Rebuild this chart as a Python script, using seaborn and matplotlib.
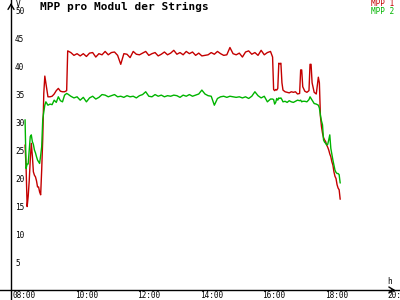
import matplotlib
matplotlib.use("Agg")
import matplotlib.pyplot as plt
import seaborn as sns
import pandas as pd

# ---------------- data ----------------
times = [
    "08:18", "08:20", "08:22", "08:24", "08:26", "08:28", "08:30", "08:32", "08:34", "08:36",
    "08:38", "08:40", "08:42", "08:44", "08:46", "08:48", "08:50", "08:52", "08:54", "08:56",
    "08:58",
    "09:02", "09:06", "09:10", "09:14", "09:18", "09:22", "09:26", "09:30", "09:34", "09:38",
    "09:40",
    "09:46", "09:52", "09:58", "10:04", "10:10", "10:16", "10:22", "10:28", "10:34", "10:40",
    "10:46", "10:52", "10:58", "11:04", "11:10", "11:16", "11:22", "11:28", "11:34", "11:40",
    "11:46", "11:52", "11:58", "12:04", "12:10", "12:16", "12:22", "12:28", "12:34", "12:40",
    "12:46", "12:52", "12:58", "13:04", "13:10", "13:16", "13:22", "13:28", "13:34", "13:40",
    "13:46", "13:52", "13:58", "14:04", "14:10", "14:16", "14:22", "14:28", "14:34", "14:40",
    "14:46", "14:52", "14:58", "15:04", "15:10", "15:16", "15:22", "15:28", "15:34", "15:40",
    "15:46", "15:52", "15:58", "16:04", "16:10",
    "16:14", "16:16", "16:18", "16:20", "16:22", "16:24", "16:26", "16:28", "16:30", "16:32",
    "16:34", "16:38", "16:42", "16:46", "16:50", "16:54", "16:58", "17:02", "17:06", "17:08",
    "17:10", "17:12", "17:16", "17:20", "17:24", "17:26", "17:28", "17:30", "17:34", "17:38",
    "17:42",
    "17:44", "17:46", "17:48", "17:50", "17:52", "17:54", "17:56", "17:58", "18:00", "18:02",
    "18:04", "18:06", "18:08", "18:10", "18:12", "18:14", "18:16", "18:18", "18:20", "18:22",
    "18:24",
]

mpp1 = [
    25.9, 21.8, 14.9, 16.7, 19.5, 23.2, 26.2, 24.0, 21.1, 20.5,
    20.2, 19.5, 18.4, 18.4, 17.5, 17.0, 21.5, 27.0, 35.1, 38.2,
    37.0,
    34.5, 34.5, 34.6, 35.0, 35.6, 36.0, 35.5, 35.4, 35.4, 35.6,
    42.7,
    42.4, 41.9, 42.2, 41.8, 42.2, 41.7, 42.3, 42.4, 41.6, 42.2,
    42.0, 42.6, 42.0, 42.4, 42.5, 41.9, 40.3, 42.2, 42.1, 41.5,
    42.6, 42.1, 42.0, 42.3, 42.6, 41.9, 42.2, 42.4, 41.8, 42.1,
    42.5, 42.0, 42.3, 42.8, 42.1, 42.4, 42.0, 42.6, 42.2, 42.5,
    41.9, 42.3, 41.8, 41.9, 42.0, 42.4, 42.1, 42.6, 42.2, 41.9,
    42.0, 43.3, 42.2, 42.0, 42.3, 41.6, 42.5, 42.7, 42.1, 42.4,
    41.9, 42.8, 42.0, 42.4, 42.6,
    41.6, 35.8, 35.6, 35.8, 35.7, 36.0, 40.5, 40.4, 40.5, 37.0,
    35.7, 35.4, 35.3, 35.2, 35.4, 35.3, 35.4, 35.0, 35.1, 39.3,
    39.3, 36.3, 35.5, 35.3, 35.6, 40.3, 40.3, 37.0, 35.3, 35.0,
    38.0,
    37.0, 31.0, 29.2, 28.0, 27.2, 26.8, 26.5, 25.9, 25.5, 25.0,
    24.3, 23.8, 22.9, 22.3, 21.1, 20.3, 19.9, 18.8, 18.2, 17.9,
    16.2,
]

mpp2 = [
    30.4, 21.7, 22.5, 22.5, 25.0, 27.4, 27.7, 26.5, 26.0, 25.0,
    24.5, 23.8, 23.2, 22.9, 22.6, 24.0, 25.6, 30.4, 31.8, 33.0,
    33.6,
    33.0, 33.2, 33.1, 33.9, 33.5, 34.5, 33.8, 33.6, 34.8, 35.1,
    35.0,
    34.6, 34.3, 34.5, 33.9, 34.4, 33.6, 34.3, 34.6, 34.1, 34.4,
    34.9, 34.8, 34.5, 34.7, 34.9, 34.5, 34.6, 34.4, 34.7, 34.5,
    34.6, 34.3, 34.7, 34.9, 35.4, 34.6, 34.5, 34.9, 34.6, 34.8,
    34.5, 34.7, 34.6, 34.8, 34.7, 34.4, 34.8, 34.6, 34.9, 34.6,
    34.8, 35.0, 35.7, 35.0, 34.7, 34.6, 33.0, 34.2, 34.5, 34.6,
    34.4, 34.6, 34.5, 34.4, 34.5, 34.3, 34.5, 34.2, 34.6, 35.4,
    34.7, 34.3, 34.6, 33.6, 34.1,
    34.1, 34.0, 33.2, 33.5, 34.2, 33.9, 34.3, 34.2, 34.3, 34.0,
    33.6, 33.7, 33.5, 33.8, 33.6, 33.5, 33.7, 33.9, 33.8, 33.9,
    33.6, 33.7, 33.7, 33.6, 34.0, 34.5, 34.2, 33.9, 33.3, 33.2,
    33.0,
    32.5, 31.2, 30.2, 29.5, 26.8, 26.4, 26.2, 25.9, 26.0, 26.8,
    27.7, 25.3, 24.2, 23.2, 22.3, 21.4, 21.0, 20.8, 20.8, 20.6,
    19.1,
]

series_names = ["MPP 1", "MPP 2"]
series_colors = ["#c40000", "#00b400"]
x_tick_labels = ["08:00", "10:00", "12:00", "14:00", "16:00", "18:00", "20:00"]
y_tick_values = [5, 10, 15, 20, 25, 30, 35, 40, 45, 50]
title = "MPP pro Modul der Strings"
y_unit = "V"
x_unit = "h"


def to_hours(s):
    h, m = s.split(":")
    return int(h) + int(m) / 60.0


hours = [to_hours(t) for t in times]
df = pd.DataFrame({
    "hour": hours + hours,
    "value": mpp1 + mpp2,
    "series": [series_names[0]] * len(hours) + [series_names[1]] * len(hours),
})

# ---------------- figure ----------------
sns.set_theme(style="white")
plt.rcParams["font.family"] = ["DejaVu Sans Mono", "DejaVu Sans"]

W, H = 400, 300
fig = plt.figure(figsize=(4, 3), dpi=100)
ax = fig.add_axes([0, 0, 1, 1])
ax.set_facecolor("white")

sns.lineplot(data=df, x="hour", y="value", hue="series",
             palette=dict(zip(series_names, series_colors)),
             estimator=None, sort=False, legend=False,
             linewidth=1.0, ax=ax)

# pixel mapping: px = 15.7 + 31.2*(h-8), py = 290 - 5.6*v
x0, xs = 15.7, 31.2
y0, ys = 290.0, 5.6
ax.set_xlim(8 - x0 / xs, 8 + (W - x0) / xs)
ax.set_ylim(-(H - y0) / ys, y0 / ys)
axis_x = 8 + (11 - x0) / xs

for side in ["top", "right"]:
    ax.spines[side].set_visible(False)
ax.spines["left"].set_position(("data", axis_x))
ax.spines["bottom"].set_position(("data", 0))
for side in ["left", "bottom"]:
    ax.spines[side].set_color("black")
    ax.spines[side].set_linewidth(1.0)

x_tick_hours = [to_hours(t) for t in x_tick_labels]
ax.set_xticks(x_tick_hours)
ax.set_xticklabels([""] * len(x_tick_hours))
ax.set_yticks(y_tick_values)
ax.set_yticklabels([""] * len(y_tick_values))
ax.tick_params(axis="both", direction="inout", length=4, width=1, color="black")
ax.set_xlabel("")
ax.set_ylabel("")
ax.grid(False)

fs_tick = 5.6
for h, lab in zip(x_tick_hours, x_tick_labels):
    ax.annotate(lab, xy=(h, 0), xytext=(-3, -9.8), textcoords="offset pixels",
                ha="left", va="bottom", fontsize=fs_tick, color="black",
                annotation_clip=False)
for v in y_tick_values:
    ax.annotate(str(v), xy=(axis_x, v), xytext=(4, -1), textcoords="offset pixels",
                ha="left", va="center", fontsize=fs_tick, color="black",
                annotation_clip=False)

# arrow heads
ytop = y0 / ys
xright = 8 + (398 - x0) / xs
ax.annotate("", xy=(axis_x, ytop - 0.05), xytext=(axis_x, ytop - 1.5),
            arrowprops=dict(arrowstyle="->,head_length=0.3,head_width=0.18", lw=1, color="black"),
            annotation_clip=False)
ax.annotate("", xy=(xright, 0), xytext=(xright - 0.3, 0),
            arrowprops=dict(arrowstyle="->,head_length=0.3,head_width=0.18", lw=1, color="black"),
            annotation_clip=False)

# unit labels
fig.text(15.5 / W, 1 - 4.5 / H, y_unit, ha="left", va="center", fontsize=fs_tick, color="black")
fig.text(387 / W, 1 - 282 / H, x_unit, ha="left", va="center", fontsize=fs_tick, color="black")

# title
fig.text(40 / W, 1 - 6.5 / H, title, ha="left", va="center", fontsize=8,
         fontweight="bold", color="black")

# legend as text
fig.text(394 / W, 1 - 4.0 / H, series_names[0], ha="right", va="center",
         fontsize=fs_tick, color=series_colors[0])
fig.text(394 / W, 1 - 11.8 / H, series_names[1], ha="right", va="center",
         fontsize=fs_tick, color=series_colors[1])

fig.savefig("out.png", dpi=100)
